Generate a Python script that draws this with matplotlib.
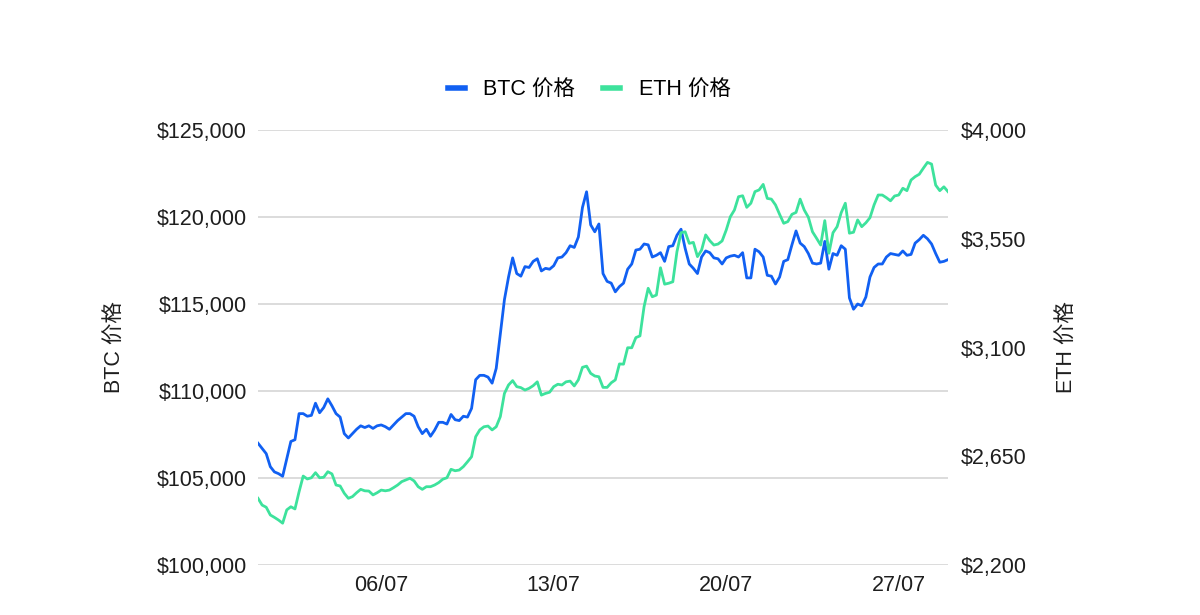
import numpy as np
import pandas as pd
import matplotlib
matplotlib.use("Agg")
import matplotlib.pyplot as plt
import matplotlib.dates as mdates
from matplotlib.ticker import FuncFormatter

plt.rcParams['font.family'] = ['Liberation Sans', 'Noto Sans CJK SC', 'DejaVu Sans']

# 4-hourly prices, 01/07 -> 29/07
btc = [107000, 106700, 106400, 105650, 105350, 105250, 105100, 106100, 107100, 107200,
       108700, 108700, 108550, 108600, 109300, 108750, 109050, 109550, 109150, 108700,
       108500, 107550, 107300, 107550, 107800, 108000, 107900, 108000, 107850, 108000,
       108050, 107950, 107800, 108050, 108300, 108500, 108700, 108700, 108550, 107950,
       107550, 107800, 107400, 107750, 108200, 108200, 108100, 108650, 108350, 108300,
       108550, 108500, 109000, 110650, 110900, 110900, 110800, 110450, 111300, 113300,
       115250, 116550, 117650, 116750, 116600, 117150, 117100, 117450, 117600, 116900,
       117050, 117000, 117200, 117650, 117700, 117950, 118350, 118250, 118850, 120550,
       121450, 119550, 119150, 119600, 116750, 116300, 116200, 115700, 116000, 116200,
       117000, 117300, 118100, 118150, 118450, 118400, 117700, 117800, 117950, 117450,
       118300, 118350, 118950, 119300, 118200, 117300, 117050, 116750, 117700, 118050,
       117950, 117650, 117600, 117300, 117650, 117750, 117800, 117700, 117950, 116500,
       116500, 118150, 118000, 117700, 116650, 116600, 116150, 116550, 117450, 117550,
       118400, 119200, 118500, 118300, 117900, 117350, 117300, 117350, 118600, 117000,
       117900, 117800, 118350, 118150, 115350, 114700, 115000, 114900, 115400, 116550,
       117100, 117300, 117300, 117700, 117900, 117850, 117800, 118050, 117800, 117850,
       118500, 118700, 118950, 118750, 118450, 117900, 117400, 117450, 117550]

eth = [2476, 2448, 2439, 2407, 2397, 2386, 2373, 2428, 2441, 2432,
       2503, 2568, 2556, 2561, 2582, 2561, 2563, 2586, 2577, 2531,
       2527, 2497, 2476, 2483, 2499, 2513, 2507, 2506, 2490, 2499,
       2510, 2507, 2510, 2520, 2531, 2545, 2552, 2559, 2548, 2524,
       2513, 2524, 2524, 2531, 2541, 2555, 2561, 2596, 2590, 2593,
       2607, 2627, 2648, 2731, 2759, 2772, 2775, 2759, 2772, 2814,
       2910, 2945, 2963, 2938, 2934, 2924, 2931, 2942, 2958, 2903,
       2910, 2915, 2938, 2948, 2945, 2958, 2961, 2941, 2966, 3018,
       3023, 2993, 2982, 2979, 2935, 2935, 2954, 2966, 3032, 3031,
       3099, 3099, 3141, 3148, 3269, 3345, 3310, 3317, 3430, 3362,
       3366, 3372, 3496, 3575, 3579, 3531, 3535, 3476, 3503, 3566,
       3542, 3524, 3528, 3541, 3586, 3641, 3669, 3724, 3728, 3680,
       3697, 3745, 3752, 3775, 3717, 3714, 3690, 3651, 3614, 3621,
       3651, 3659, 3714, 3669, 3639, 3579, 3552, 3524, 3625, 3490,
       3575, 3600, 3658, 3697, 3573, 3577, 3628, 3600, 3616, 3637,
       3690, 3731, 3731, 3720, 3707, 3727, 3731, 3759, 3749, 3793,
       3807, 3817, 3842, 3866, 3859, 3772, 3749, 3765, 3745]

btc_ticks = [100000, 105000, 110000, 115000, 120000, 125000]
eth_ticks = [2200, 2650, 3100, 3550, 4000]

dates = pd.date_range('2025-07-01', '2025-07-29', periods=len(btc))

blue = '#1160F2'
green = '#3DE29C'
txt = '#1e1e1e'
fs = 15.5

fig = plt.figure(figsize=(12, 6.15), dpi=100)
ax = fig.add_axes([0.215, 0.0813, 0.575, 0.7073])
ax2 = ax.twinx()

l1, = ax.plot(dates, btc, color=blue, lw=2.0, label='BTC 价格', zorder=3)
l2, = ax2.plot(dates, eth, color=green, lw=2.0, label='ETH 价格', zorder=3)

ax.set_ylim(100000, 125000)
ax2.set_ylim(2200, 4000)
ax.set_yticks(btc_ticks)
ax2.set_yticks(eth_ticks)
ax.yaxis.set_major_formatter(FuncFormatter(lambda v, p: f'${v:,.0f}'))
ax2.yaxis.set_major_formatter(FuncFormatter(lambda v, p: f'${v:,.0f}'))
ax.set_xlim(dates[0], dates[-1])
ax.xaxis.set_major_locator(mdates.DayLocator(bymonthday=[6, 13, 20, 27]))
ax.xaxis.set_major_formatter(mdates.DateFormatter('%d/%m'))

ax.grid(axis='y', color='#d9d9d9', lw=1.3)
ax.set_axisbelow(True)
for a in (ax, ax2):
    for s in a.spines.values():
        s.set_visible(False)
ax.tick_params(axis='y', length=0, pad=8, labelsize=fs, colors=txt)
ax.tick_params(axis='x', length=0, pad=7, labelsize=fs, colors=txt)
ax2.tick_params(axis='y', length=0, pad=9, labelsize=fs, colors=txt)

ax.set_ylabel('BTC 价格', fontsize=fs, color=txt, labelpad=22)
ax2.set_ylabel('ETH 价格', fontsize=fs, color=txt, rotation=90, labelpad=22)

fig.legend(handles=[l1, l2], loc='center', bbox_to_anchor=(0.491, 0.853), ncol=2,
           frameon=False, fontsize=fs, handlelength=0.8, columnspacing=1.3,
           handletextpad=0.85)
for h in fig.legends[0].legend_handles:
    h.set_linewidth(4)

fig.savefig('out.png', dpi=100)
